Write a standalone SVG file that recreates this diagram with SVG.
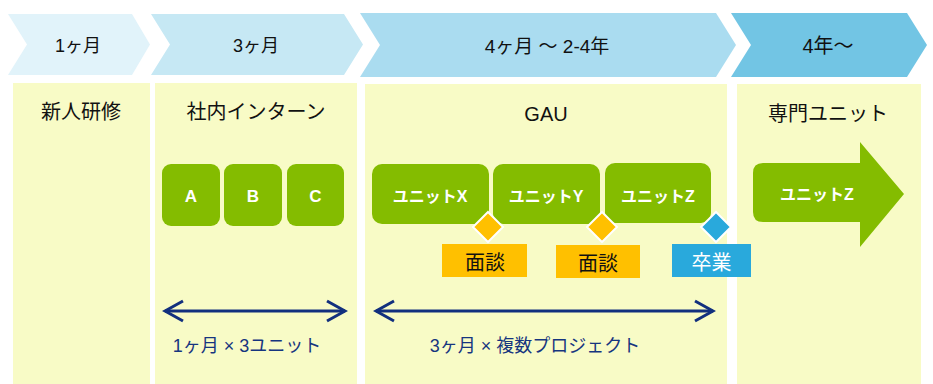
<svg xmlns="http://www.w3.org/2000/svg" width="933" height="384" viewBox="0 0 933 384">
<defs>
<style>
text{font-family:"Liberation Sans","Noto Sans CJK JP",sans-serif;text-anchor:middle}
.hd{font-size:18px;fill:#111}
.ti{font-size:20px;fill:#111}
.gb{fill:#84BC00}
.wt{font-size:16px;font-weight:bold;fill:#fff}
.lbl{font-size:18px;fill:#16357F}
.panel{fill:#F8FBC6}
.dbl{stroke:#12307E;stroke-width:3;fill:none}
</style>
<marker id="ah" viewBox="0 0 22 24" refX="19" refY="12" markerWidth="22" markerHeight="24" markerUnits="userSpaceOnUse" orient="auto-start-reverse">
<path d="M1,2 L19,12 L1,22" fill="none" stroke="#12307E" stroke-width="3"/>
</marker>
</defs>
<rect width="933" height="384" fill="#fff"/>

<g id="chevron1">
<polygon points="8,14 132,14 150,44.5 132,75 8,75 27,44.5" fill="#E1F3FA"/>
<text class="hd" x="78" y="52">1ヶ月</text>
</g>
<g id="chevron2">
<polygon points="151,14 344,14 363,44.5 344,75 151,75 170,44.5" fill="#C6E8F4"/>
<text class="hd" x="256" y="52">3ヶ月</text>
</g>
<g id="chevron3">
<polygon points="360,13 716,13 736,45 716,77 360,77 380,45" fill="#AADCF0"/>
<text class="hd" x="547" y="53" style="font-size:19px">4ヶ月 〜 2-4年</text>
</g>
<g id="chevron4">
<polygon points="731,13 907,13 927,45 907,77 731,77 751,45" fill="#72C5E4"/>
<text class="hd" x="828" y="53" style="font-size:20px">4年〜</text>
</g>

<g id="panel1">
<rect class="panel" x="13" y="83" width="137" height="301"/>
<text class="ti" x="81" y="119">新人研修</text>
</g>
<g id="panel2">
<rect class="panel" x="155" y="83" width="202" height="301"/>
<text class="ti" x="256" y="119">社内インターン</text>
</g>
<g id="panel3">
<rect class="panel" x="365" y="84" width="362" height="300"/>
<text class="ti" x="546" y="121">GAU</text>
</g>
<g id="panel4">
<rect class="panel" x="737" y="84" width="184" height="300"/>
<text class="ti" x="828" y="121">専門ユニット</text>
</g>

<g id="boxA">
<rect class="gb" x="162" y="164" width="58" height="62" rx="9"/>
<text class="wt" x="191" y="202" style="font-size:17px">A</text>
</g>
<g id="boxB">
<rect class="gb" x="224" y="164" width="58" height="62" rx="9"/>
<text class="wt" x="253" y="202" style="font-size:17px">B</text>
</g>
<g id="boxC">
<rect class="gb" x="287" y="164" width="57" height="62" rx="9"/>
<text class="wt" x="315.5" y="202" style="font-size:17px">C</text>
</g>

<g id="unitX">
<rect class="gb" x="372" y="164" width="117" height="60" rx="10"/>
<text class="wt" x="430" y="202">ユニットX</text>
</g>
<g id="unitY">
<rect class="gb" x="493" y="164" width="107" height="60" rx="10"/>
<text class="wt" x="546" y="202">ユニットY</text>
</g>
<g id="unitZ">
<rect class="gb" x="605" y="163" width="106" height="60" rx="10"/>
<text class="wt" x="658" y="202">ユニットZ</text>
</g>

<g id="interview1">
<rect x="442" y="244" width="85" height="33" fill="#FFC000"/>
<text x="485" y="270" style="font-size:20px;fill:#111">面談</text>
<polygon points="488,212 503,227 488,242 473,227" fill="#FFC000" stroke="#fff" stroke-width="2"/>
</g>
<g id="interview2">
<rect x="556" y="245" width="84" height="33" fill="#FFC000"/>
<text x="598" y="271" style="font-size:20px;fill:#111">面談</text>
<polygon points="602,212 617,227 602,242 587,227" fill="#FFC000" stroke="#fff" stroke-width="2"/>
</g>
<g id="graduation">
<rect x="672" y="244" width="79" height="33" fill="#29A9DC"/>
<text x="711.5" y="270" style="font-size:20px;fill:#fff">卒業</text>
<polygon points="716,212 731,227 716,242 701,227" fill="#29A9DC" stroke="#fff" stroke-width="2"/>
</g>

<g id="unitZarrow">
<path d="M763,163 L860,163 L860,142 L904,194 L860,247 L860,222 L763,222 Q753,222 753,212 L753,173 Q753,163 763,163 Z" fill="#84BC00"/>
<text class="wt" x="817" y="200">ユニットZ</text>
</g>

<g id="connectors">
<line class="dbl" x1="165" y1="311" x2="345" y2="311" marker-start="url(#ah)" marker-end="url(#ah)"/>
<line class="dbl" x1="376" y1="311" x2="713" y2="311" marker-start="url(#ah)" marker-end="url(#ah)"/>
</g>
<g id="labels">
<text class="lbl" x="247" y="352">1ヶ月 × 3ユニット</text>
<text class="lbl" x="535" y="352">3ヶ月 × 複数プロジェクト</text>
</g>
</svg>
